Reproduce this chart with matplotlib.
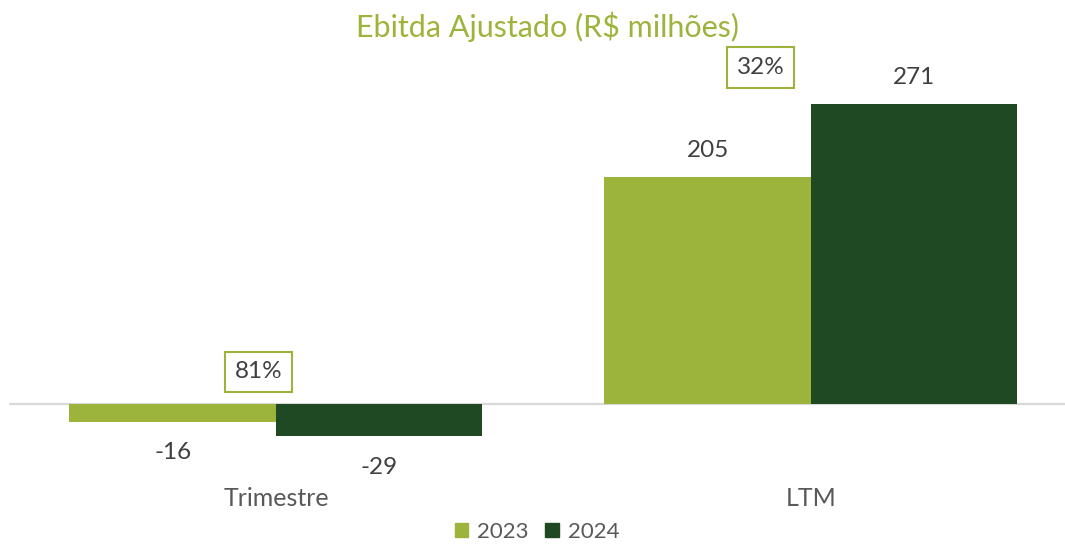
import numpy as np
import matplotlib
matplotlib.use("Agg")
import matplotlib.pyplot as plt
from matplotlib.patches import Patch

#%% Data
categories = ["Trimestre", "LTM"]
years = ["2023", "2024"]
ebitda_2023 = [-16, 205]
ebitda_2024 = [-29, 271]
growth_labels = ["81%", "32%"]

#%% Style
light_green = "#9DB43C"
dark_green = "#1F4923"
text_grey = "#404040"
label_grey = "#595959"
plt.rcParams['font.family'] = ['Lato', 'DejaVu Sans']

W, H = 1065, 544
fig = plt.figure(figsize=(W / 100, H / 100), dpi=100)
# axes placed so that the zero line sits where the original has it
ax = fig.add_axes([9 / W, (H - 470) / H, (W - 9) / W, 380 / H])

x = np.arange(len(categories))
width = 0.386
ax.bar(x - width / 2, ebitda_2023, width, color=light_green, label=years[0])
ax.bar(x + width / 2, ebitda_2024, width, color=dark_green, label=years[1])

ax.set_xlim(-0.499, 1.475)
ax.set_ylim(-59.6, 283.6)
ax.axhline(0, color="#D9D9D9", lw=1.6, zorder=0)
for s in ax.spines.values():
    s.set_visible(False)
ax.set_yticks([])
ax.set_xticks(x)
ax.set_xticklabels(categories, fontsize=18, color=label_grey)
ax.tick_params(axis='x', length=0, pad=12)

# value labels
for i in range(len(categories)):
    for off, v in ((-width / 2, ebitda_2023[i]), (width / 2, ebitda_2024[i])):
        if v >= 0:
            ax.text(i + off, v + 24, str(v), ha='center', va='center',
                    fontsize=17.5, color=text_grey)
        else:
            ax.text(i + off, v - 28, str(v), ha='center', va='center',
                    fontsize=17.5, color=text_grey)

# growth boxes
box = dict(boxstyle='square,pad=0.4', fc='white', ec=light_green, lw=1.5)
ax.text(-0.032, 29, growth_labels[0], ha='center', va='center', fontsize=17.5,
        color=text_grey, bbox=box)
ax.text(0.906, 304, growth_labels[1], ha='center', va='center', fontsize=17.5,
        color=text_grey, bbox=box)

fig.text(547 / W, 1 - 27 / H, "Ebitda Ajustado (R$ milhões)", ha='center',
         va='center', fontsize=22, color=light_green)

handles = [Patch(color=light_green, label=years[0]),
           Patch(color=dark_green, label=years[1])]
leg = fig.legend(handles=handles, loc='center', bbox_to_anchor=(537 / W, 1 - 532 / H),
                 ncol=2, frameon=False, fontsize=16, handlelength=0.6,
                 handleheight=0.6, handletextpad=0.4, columnspacing=0.75,
                 borderpad=0.1)
for t in leg.get_texts():
    t.set_color(label_grey)

fig.savefig("out.png", dpi=100)
